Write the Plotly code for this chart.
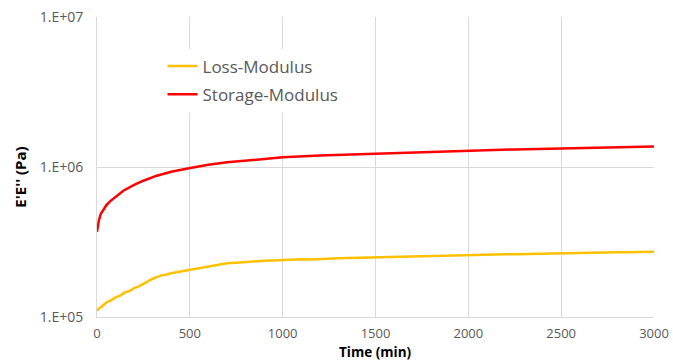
import plotly.graph_objects as go

# Loss modulus (Pa) vs time (min)
loss_time = [0, 10, 25, 50, 75, 100, 125, 150, 175, 200, 225, 250, 275, 300, 325, 350, 375, 400,
             450, 500, 550, 600, 650, 700, 750, 800, 850, 900, 950, 1000, 1050, 1100, 1150, 1200,
             1250, 1300, 1350, 1400, 1450, 1500, 1550, 1600, 1650, 1700, 1750, 1800, 1850, 1900,
             1950, 2000, 2050, 2100, 2150, 2200, 2250, 2300, 2350, 2400, 2450, 2500, 2550, 2600,
             2650, 2700, 2750, 2800, 2850, 2900, 2950, 3000]
loss_mod = [1.10e5, 1.14e5, 1.17e5, 1.25e5, 1.29e5, 1.35e5, 1.39e5, 1.46e5, 1.49e5, 1.56e5, 1.60e5,
            1.67e5, 1.72e5, 1.80e5, 1.85e5, 1.90e5, 1.92e5, 1.96e5, 2.01e5, 2.06e5, 2.11e5, 2.18e5,
            2.22e5, 2.28e5, 2.30e5, 2.33e5, 2.35e5, 2.37e5, 2.38e5, 2.40e5, 2.41e5, 2.43e5, 2.42e5,
            2.44e5, 2.45e5, 2.46e5, 2.47e5, 2.48e5, 2.48e5, 2.50e5, 2.51e5, 2.52e5, 2.52e5, 2.54e5,
            2.55e5, 2.55e5, 2.57e5, 2.57e5, 2.58e5, 2.59e5, 2.60e5, 2.60e5, 2.61e5, 2.62e5, 2.62e5,
            2.63e5, 2.64e5, 2.64e5, 2.65e5, 2.66e5, 2.66e5, 2.67e5, 2.68e5, 2.68e5, 2.69e5, 2.70e5,
            2.70e5, 2.71e5, 2.71e5, 2.72e5]

# Storage modulus (Pa) vs time (min)
stor_time = [0, 5, 10, 20, 35, 50, 70, 100, 142, 200, 250, 322, 400, 502, 600, 700, 800, 900,
             1000, 1200, 1500, 1750, 2000, 2250, 2500, 2750, 3000]
stor_mod = [3.7e5, 4.1e5, 4.4e5, 4.85e5, 5.25e5, 5.55e5, 5.9e5, 6.35e5, 6.95e5, 7.6e5, 8.1e5,
            8.75e5, 9.3e5, 9.85e5, 10.35e5, 10.75e5, 11.05e5, 11.35e5, 11.6e5, 11.95e5, 12.3e5,
            12.6e5, 12.9e5, 13.1e5, 13.3e5, 13.5e5, 13.7e5]

x_ticks = [0, 500, 1000, 1500, 2000, 2500, 3000]
y_tickvals = [1e5, 1e6, 1e7]
y_ticktext = ["1.E+05", "1.E+06", "1.E+07"]

fig = go.Figure()
fig.add_trace(go.Scatter(x=loss_time, y=loss_mod, mode="lines", name="Loss-Modulus",
                         legendgroup="a", line=dict(color="#FFC000", width=2.5)))
fig.add_trace(go.Scatter(x=stor_time, y=stor_mod, mode="lines", name="Storage-Modulus",
                         legendgroup="b", line=dict(color="#FF0000", width=2.5)))

font_family = "Open Sans, Liberation Sans, sans-serif"
fig.update_layout(
    width=673, height=361,
    margin=dict(l=97, r=19, t=17, b=44),
    paper_bgcolor="white", plot_bgcolor="white",
    font=dict(family=font_family, color="#595959", size=14),
    showlegend=True,
    legend=dict(x=0.1176, y=0.895, xanchor="left", yanchor="top", bgcolor="white",
                font=dict(size=17, color="#595959"), tracegroupgap=3,
                traceorder="grouped"),
    xaxis=dict(range=[0, 3000], tickvals=x_ticks, showgrid=True, gridcolor="#D9D9D9",
               gridwidth=1, showline=True, linecolor="#D9D9D9", zeroline=False,
               ticks="", ticklabelstandoff=4, automargin=False,
               tickfont=dict(size=13, color="#595959")),
    yaxis=dict(type="log", range=[5, 7], tickvals=y_tickvals, ticktext=y_ticktext,
               showgrid=True, gridcolor="#D9D9D9", gridwidth=1, showline=True,
               linecolor="#D9D9D9", zeroline=False,
               ticks="", ticklabelstandoff=10, automargin=False,
               tickfont=dict(size=14, color="#595959")),
    annotations=[
        dict(text="<b>Time (min)</b>", xref="paper", yref="paper", x=0.5, y=-0.1167,
             xanchor="center", yanchor="middle", showarrow=False,
             font=dict(size=13.5, color="black")),
        dict(text="<b>E'E'' (Pa)</b>", xref="paper", yref="paper", x=-0.138, y=0.465,
             xanchor="center", yanchor="middle", showarrow=False, textangle=-90,
             font=dict(size=15, color="black")),
    ],
)

fig.write_html("out.html")
